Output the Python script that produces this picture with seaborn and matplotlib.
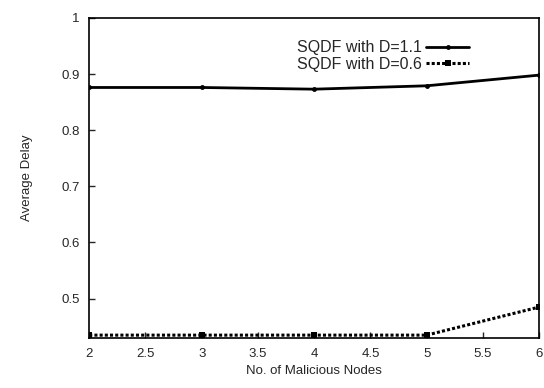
import matplotlib
matplotlib.use("Agg")
import matplotlib.pyplot as plt
import seaborn as sns
import pandas as pd

# data
nodes = [2, 3, 4, 5, 6]
delay_d11 = [0.876, 0.876, 0.873, 0.879, 0.898]
delay_d06 = [0.435, 0.435, 0.435, 0.435, 0.485]
x_ticks = [2, 2.5, 3, 3.5, 4, 4.5, 5, 5.5, 6]
y_ticks = [0.5, 0.6, 0.7, 0.8, 0.9, 1.0]

sns.set_style("ticks")
plt.rcParams["font.family"] = ["Liberation Sans", "DejaVu Sans"]

df = pd.DataFrame({"nodes": nodes, "d11": delay_d11, "d06": delay_d06})

fig = plt.figure(figsize=(5.44, 3.88), dpi=100)
ax = fig.add_axes([0.164, 0.129, 0.827, 0.825])

sns.lineplot(data=df, x="nodes", y="d11", ax=ax, color="black", lw=2,
             marker="o", markersize=3.5, markeredgewidth=0,
             label="SQDF with D=1.1")
sns.lineplot(data=df, x="nodes", y="d06", ax=ax, color="black", lw=2.2,
             linestyle=(0, (1, 0.7)), marker="s", markersize=4.5,
             markeredgewidth=0, label="SQDF with D=0.6")

ax.set_xlim(2, 6)
ax.set_ylim(0.43, 1.0)
ax.set_xticks(x_ticks)
ax.set_xticklabels([f"{t:g}" for t in x_ticks])
ax.set_yticks(y_ticks)
ax.set_yticklabels([f"{t:g}" for t in y_ticks])
ax.tick_params(direction="in", length=4, width=1, labelsize=9.5, pad=7)
for s in ax.spines.values():
    s.set_linewidth(1.2)
    s.set_color("black")

ax.set_xlabel("No. of Malicious Nodes", fontsize=9.5, labelpad=4)
ax.set_ylabel("Average Delay", fontsize=9.5, labelpad=20)

leg = ax.legend(loc="upper right", bbox_to_anchor=(0.87, 0.965), frameon=False,
                markerfirst=False, fontsize=11.5, handlelength=2.7,
                handletextpad=0.3, labelspacing=0.1, borderpad=0.2)

fig.savefig("out.png", dpi=100)
